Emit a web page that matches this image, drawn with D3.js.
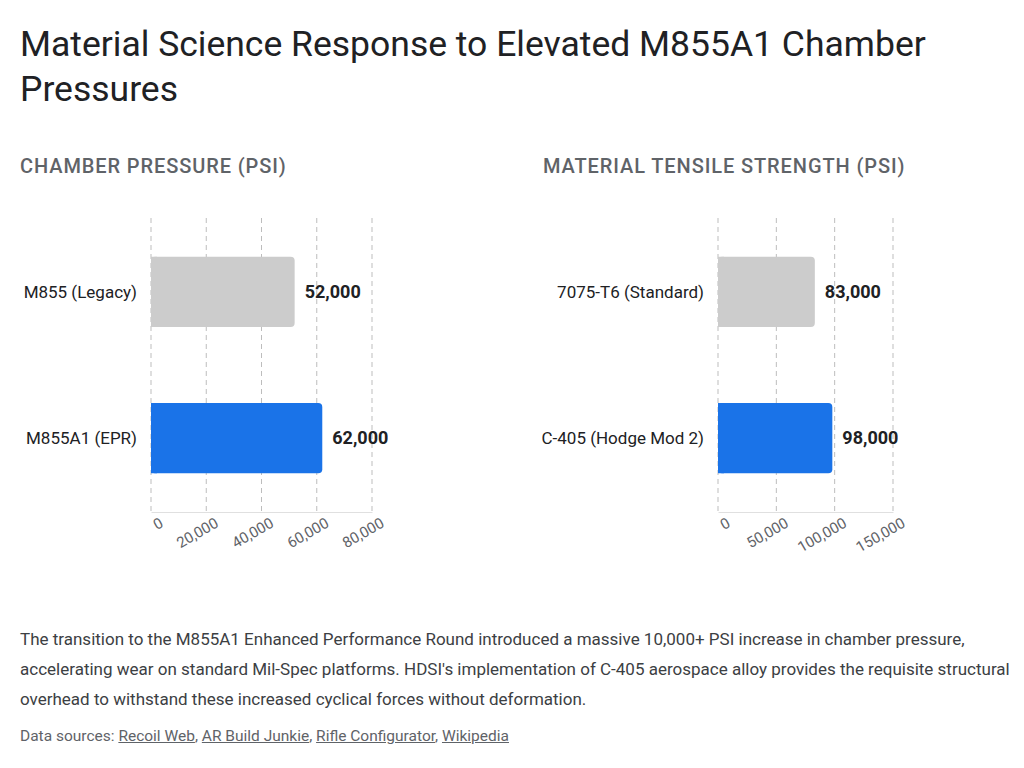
<!DOCTYPE html>
<html>
<head>
<script src="https://cdn.jsdelivr.net/npm/d3@7"></script>
<style>
  html, body { margin: 0; padding: 0; background: #fff; font-family: Roboto, 'Noto Sans', sans-serif; }
  h1 { position: absolute; left: 20px; top: 22px; width: 1000px; margin: 0; font-weight: 400; font-size: 35.5px; line-height: 45px; color: #202124; }
  .sub { position: absolute; top: 154px; font-size: 20px; font-weight: 500; letter-spacing: 0.9px; color: #5f6368; }
  svg { position: absolute; top: 190px; overflow: hidden; }
  .desc { position: absolute; left: 20px; top: 624px; width: 990px; font-size: 17px; line-height: 30px; color: #3c4043; }
  .src { position: absolute; left: 20px; top: 727px; font-size: 15.5px; color: #5f6368; }
  .src span { text-decoration: underline; }
</style>
</head>
<body>
<h1>Material Science Response to Elevated M855A1 Chamber Pressures</h1>
<div class="sub" style="left:20px">CHAMBER PRESSURE (PSI)</div>
<div class="sub" style="left:543px">MATERIAL TENSILE STRENGTH (PSI)</div>
<div class="desc">The transition to the M855A1 Enhanced Performance Round introduced a massive 10,000+ PSI increase in chamber pressure, accelerating wear on standard Mil-Spec platforms. HDSI's implementation of C-405 aerospace alloy provides the requisite structural overhead to withstand these increased cyclical forces without deformation.</div>
<div class="src">Data sources: <span>Recoil Web</span>, <span>AR Build Junkie</span>, <span>Rifle Configurator</span>, <span>Wikipedia</span></div>
<script>
const pressureLabels = ['M855 (Legacy)', 'M855A1 (EPR)'];
const pressureValues = [52000, 62000];
const pressureTicks = [0, 20000, 40000, 60000, 80000];
const strengthLabels = ['7075-T6 (Standard)', 'C-405 (Hodge Mod 2)'];
const strengthValues = [83000, 98000];
const strengthTicks = [0, 50000, 100000, 150000];
const barColors = ['#cccccc', '#1a73e8'];

function drawChart(left, width, plotLeft, plotRight, labels, values, ticks) {
    const svg = d3.select('body').append('svg')
        .style('left', left + 'px')
        .attr('width', width).attr('height', 410);
    const x = d3.scaleLinear().domain([0, ticks[ticks.length - 1]]).range([plotLeft, plotRight]);
    const y = d3.scaleBand().domain(labels).range([28, 322]).paddingInner(0.52).paddingOuter(0.265);

    // dashed grid
    svg.append('g').selectAll('line').data(ticks).join('line')
        .attr('x1', d => x(d)).attr('x2', d => x(d))
        .attr('y1', 28).attr('y2', 322)
        .attr('stroke', '#bdbdbd').attr('stroke-dasharray', '5,4');

    // bars
    svg.append('g').selectAll('rect').data(values).join('rect')
        .attr('x', x(0)).attr('y', (d, i) => y(labels[i]))
        .attr('width', d => x(d) - x(0)).attr('height', y.bandwidth())
        .attr('rx', 4).attr('fill', (d, i) => barColors[i]);
    // square off left corners
    svg.append('g').selectAll('rect').data(values).join('rect')
        .attr('x', x(0)).attr('y', (d, i) => y(labels[i]))
        .attr('width', 6).attr('height', y.bandwidth())
        .attr('fill', (d, i) => barColors[i]);

    // value labels
    svg.append('g').selectAll('text').data(values).join('text')
        .attr('x', d => x(d) + 10).attr('y', (d, i) => y(labels[i]) + y.bandwidth() / 2)
        .attr('dy', '0.35em').attr('font-size', 18).attr('font-weight', 700).attr('fill', '#202124')
        .text(d => d3.format(',')(d));

    // category labels
    svg.append('g').selectAll('text').data(labels).join('text')
        .attr('x', plotLeft - 14).attr('y', d => y(d) + y.bandwidth() / 2)
        .attr('dy', '0.35em').attr('text-anchor', 'end').attr('font-size', 17).attr('fill', '#202124')
        .text(d => d);

    // x axis
    const ax = svg.append('g').attr('transform', 'translate(0,322)')
        .call(d3.axisBottom(x).tickValues(ticks).tickFormat(d3.format(',')).tickSize(0));
    ax.select('.domain').attr('stroke', '#e0e0e0');
    ax.selectAll('text')
        .attr('font-size', 15).attr('fill', '#5f6368').attr('font-family', 'Roboto, sans-serif')
        .attr('text-anchor', 'end').attr('x', 4).attr('y', 8).attr('dy', '0.7em')
        .attr('transform', 'rotate(-30)');
}

drawChart(20, 480, 131, 352, pressureLabels, pressureValues, pressureTicks);
drawChart(540, 480, 178, 353, strengthLabels, strengthValues, strengthTicks);
</script>
</body>
</html>
